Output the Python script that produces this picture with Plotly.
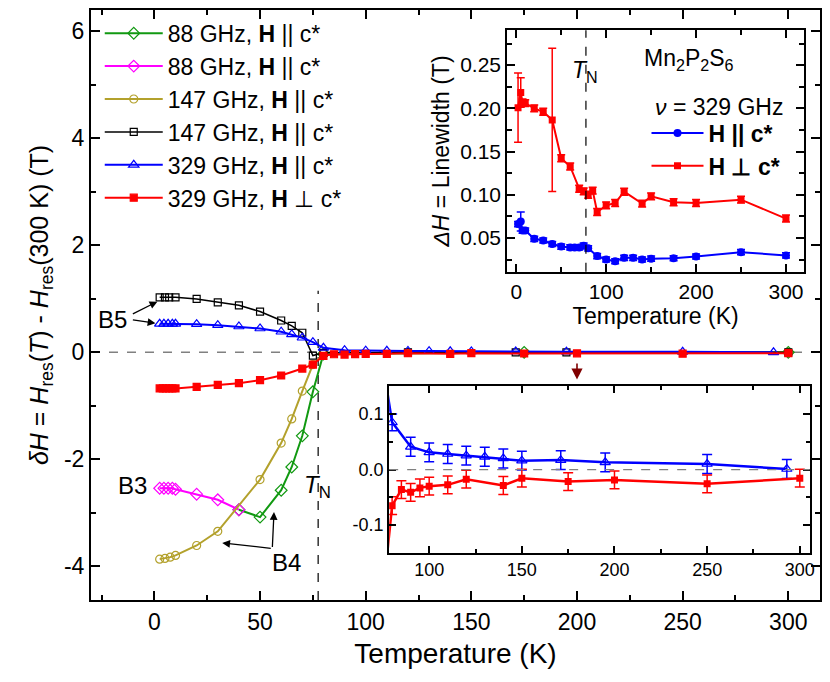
import plotly.graph_objects as go

FONT = "Liberation Sans, Arial, sans-serif"

# ---- main panel: dH = Hres(T) - Hres(300 K) ----
t_88_g = [40, 50, 60, 65, 70, 75, 80, 175, 300]
dh_88_g = [-2.942, -3.08, -2.578, -2.143, -1.561, -0.738, -0.03, 0.0, 0.0]

t_88_m = [2.5, 4.5, 6.5, 8.5, 10, 20, 30, 40]
dh_88_m = [-2.541, -2.541, -2.541, -2.541, -2.56, -2.652, -2.757, -2.942]

t_147_o = [2.5, 5, 7.5, 10, 20, 30, 50, 60, 65, 70, 75, 80, 120, 300]
dh_147_o = [-3.866, -3.853, -3.829, -3.797, -3.611, -3.346, -2.379, -1.697,
            -1.245, -0.725, -0.229, -0.03, 0.0, 0.0]

t_147_k = [2.5, 5, 7, 10, 20, 30, 40, 50, 60, 65, 70, 75, 80, 120, 171, 195, 300]
dh_147_k = [1.028, 1.028, 1.028, 1.028, 0.998, 0.935, 0.879, 0.762, 0.595,
            0.496, 0.366, -0.061, -0.01, 0.0, 0.0, 0.0, 0.0]

t_329_par = [2.5, 4.5, 6.5, 8.5, 10, 20, 30, 40, 50, 60, 65, 70, 75, 80, 90,
             100, 110, 120, 130, 140, 150, 171, 195, 250, 293]
dh_329_par = [0.533, 0.533, 0.533, 0.533, 0.533, 0.526, 0.507, 0.483, 0.446,
              0.385, 0.335, 0.273, 0.191, 0.085, 0.041, 0.031, 0.028, 0.025,
              0.023, 0.020, 0.016, 0.017, 0.013, 0.010, 0.001]
err_329_par = [0.017] * 13 + [0.015] + [0.017] * 11

t_329_perp = [2.5, 4, 5.5, 7, 8.5, 10, 20, 30, 40, 50, 60, 70, 75, 80, 85, 90,
              95, 100, 110, 120, 140, 150, 175, 200, 250, 300]
dh_329_perp = [-0.675, -0.675, -0.675, -0.675, -0.675, -0.675, -0.645, -0.608,
               -0.576, -0.52, -0.433, -0.303, -0.229, -0.065, -0.036, -0.041,
               -0.033, -0.030, -0.0275, -0.0174, -0.0287, -0.0156, -0.0216,
               -0.0186, -0.0257, -0.0156]
err_329_perp = [0.016] * 26

# ---- inset: linewidth at 329 GHz ----
t_lw_par = [2, 5, 7, 10, 20, 30, 40, 50, 60, 65, 70, 75, 80, 90, 100, 110,
            120, 130, 140, 150, 175, 200, 250, 300]
lw_par = [0.066, 0.069, 0.0585, 0.0585, 0.049, 0.047, 0.043, 0.040, 0.039,
          0.039, 0.039, 0.041, 0.038, 0.029, 0.025, 0.023, 0.027, 0.027,
          0.025, 0.026, 0.0265, 0.0285, 0.0335, 0.0297]
err_lw_par = [0.003, 0.011] + [0.003] * 22

t_lw_perp = [2, 5, 7, 10, 20, 30, 40, 50, 60, 70, 75, 80, 85, 90, 100, 110,
             120, 140, 150, 175, 200, 250, 300]
lw_perp = [0.2008, 0.2184, 0.2069, 0.2060, 0.200, 0.196, 0.1866, 0.1423,
           0.1327, 0.107, 0.1039, 0.100, 0.1047, 0.080, 0.0877, 0.0904,
           0.1035, 0.0897, 0.0981, 0.0912, 0.0904, 0.0943, 0.0724]
err_lw_perp = [0.040, 0.017, 0.004, 0.004, 0.004, 0.004, 0.083] + [0.004] * 16

# tick labels (plain hyphen minus as in the original)
main_yticks = [-4, -2, 0, 2, 4, 6]
main_ytext = ["-4", "-2", "0", "2", "4", "6"]
zoom_yticks = [-0.1, 0.0, 0.1]
zoom_ytext = ["-0.1", "0.0", "0.1"]

T_N = 77.5

GREEN, MAGENTA, OLIVE = "#119911", "#FF00FF", "#B3A12C"
BLUE, RED = "#0000FF", "#FF0000"

fig = go.Figure()

main = [
    (t_88_g, dh_88_g, GREEN, "diamond-open", 9, "88 GHz, <b>H</b> || c*"),
    (t_88_m, dh_88_m, MAGENTA, "diamond-open", 9, "88 GHz, <b>H</b> || c*"),
    (t_147_o, dh_147_o, OLIVE, "circle-open", 8, "147 GHz, <b>H</b> || c*"),
    (t_147_k, dh_147_k, "#000000", "square-open", 7, "147 GHz, <b>H</b> || c*"),
    (t_329_par, dh_329_par, BLUE, "triangle-up-open", 9, "329 GHz, <b>H</b> || c*"),
    (t_329_perp, dh_329_perp, RED, "square", 7, "329 GHz, <b>H</b> \u22a5 c*"),
]
for t, v, c, sym, sz, name in main:
    fig.add_trace(go.Scatter(
        x=t, y=v, mode="lines+markers", name=name,
        line=dict(color=c, width=2 if c != "#000000" else 1.5),
        marker=dict(symbol=sym, size=sz, color=c, line=dict(color=c, width=1.2)),
        xaxis="x", yaxis="y", legend="legend",
    ))

# inset: linewidth
fig.add_trace(go.Scatter(
    x=t_lw_par, y=lw_par, mode="lines+markers", name="<b>H || c*</b>",
    line=dict(color=BLUE, width=2), marker=dict(symbol="circle", size=8, color=BLUE),
    error_y=dict(type="data", array=err_lw_par, color=BLUE, thickness=1.5, width=4),
    xaxis="x2", yaxis="y2", legend="legend2",
))
fig.add_trace(go.Scatter(
    x=t_lw_perp, y=lw_perp, mode="lines+markers", name="<b>H \u22a5 c*</b>",
    line=dict(color=RED, width=2), marker=dict(symbol="square", size=7, color=RED),
    error_y=dict(type="data", array=err_lw_perp, color=RED, thickness=1.5, width=4),
    xaxis="x2", yaxis="y2", legend="legend2",
))

# inset: zoom of the 329 GHz shift above T_N
fig.add_trace(go.Scatter(
    x=t_329_par, y=dh_329_par, mode="lines+markers", showlegend=False,
    line=dict(color=BLUE, width=2.5),
    marker=dict(symbol="triangle-up-open", size=9, color=BLUE, line=dict(color=BLUE, width=1.2)),
    error_y=dict(type="data", array=err_329_par, color=BLUE, thickness=1.5, width=5),
    xaxis="x3", yaxis="y3",
))
fig.add_trace(go.Scatter(
    x=t_329_perp, y=dh_329_perp, mode="lines+markers", showlegend=False,
    line=dict(color=RED, width=2.5), marker=dict(symbol="square", size=7, color=RED),
    error_y=dict(type="data", array=err_329_perp, color=RED, thickness=1.5, width=5),
    xaxis="x3", yaxis="y3",
))

ax_common = dict(
    showline=True, linewidth=2, linecolor="black", mirror="ticks",
    ticks="inside", tickwidth=1.5, tickcolor="black",
    showgrid=False, zeroline=False,
)

# the page body adds an 8 px offset, margins are set to compensate
fig.update_layout(
    width=830, height=682,
    margin=dict(l=83, r=18, t=0, b=90),
    paper_bgcolor="white", plot_bgcolor="white",
    font=dict(family=FONT, color="black"),
    xaxis=dict(**ax_common, range=[-30, 315], domain=[0, 1], anchor="y",
               tick0=0, dtick=50, ticklen=9,
               minor=dict(ticks="inside", dtick=25, tick0=0, ticklen=5, tickwidth=1.5),
               tickfont=dict(size=23),
               title=dict(text="Temperature (K)", font=dict(size=28), standoff=10)),
    yaxis=dict(**ax_common, range=[-4.63, 6.40], domain=[0, 1], anchor="x",
               tickvals=main_yticks, ticktext=main_ytext, ticklen=9,
               minor=dict(ticks="inside", dtick=1, tick0=0, ticklen=5, tickwidth=1.5),
               tickfont=dict(size=23),
               title=dict(text="<i>\u03b4H</i> = <i>H</i><sub>res</sub>(<i>T</i>) - "
                               "<i>H</i><sub>res</sub>(300 K) (T)",
                          font=dict(size=25), standoff=8)),
    xaxis2=dict(**ax_common, range=[-10, 320], domain=[0.571, 0.978], anchor="y2",
                tick0=0, dtick=100, ticklen=8,
                minor=dict(ticks="inside", dtick=50, tick0=0, ticklen=5, tickwidth=1.5),
                tickfont=dict(size=21),
                title=dict(text="Temperature (K)", font=dict(size=23), standoff=2)),
    yaxis2=dict(**ax_common, range=[0.0108, 0.2904], domain=[0.5563, 0.9657], anchor="x2",
                tickvals=[0.05, 0.10, 0.15, 0.20, 0.25], tickformat=".2f", ticklen=8,
                minor=dict(ticks="inside", dtick=0.025, tick0=0, ticklen=5, tickwidth=1.5),
                tickfont=dict(size=21),
                title=dict(text="<i>\u0394H</i> = Linewidth (T)", font=dict(size=23), standoff=4)),
    xaxis3=dict(**ax_common, range=[78.4, 305.4], domain=[0.409, 0.986], anchor="y3",
                tick0=0, dtick=50, ticklen=7,
                minor=dict(ticks="inside", dtick=25, tick0=0, ticklen=4, tickwidth=1.5),
                tickfont=dict(size=18)),
    yaxis3=dict(**ax_common, range=[-0.150, 0.151], domain=[0.0799, 0.3632], anchor="x3",
                tickvals=zoom_yticks, ticktext=zoom_ytext, ticklen=7,
                minor=dict(ticks="inside", dtick=0.05, tick0=0, ticklen=4, tickwidth=1.5),
                tickfont=dict(size=18)),
    legend=dict(x=0.012, y=0.997, xanchor="left", yanchor="top",
                bgcolor="rgba(0,0,0,0)", font=dict(size=23), itemwidth=58,
                tracegroupgap=0),
    legend2=dict(x=0.762, y=0.828, xanchor="left", yanchor="top",
                 bgcolor="rgba(0,0,0,0)", font=dict(size=23), itemwidth=52,
                 tracegroupgap=0),
    shapes=[
        dict(type="line", xref="x domain", yref="y", x0=0, x1=1, y0=0, y1=0,
             line=dict(color="#808080", width=1.5, dash="dash"), layer="below"),
        dict(type="line", xref="x", yref="y", x0=T_N, x1=T_N, y0=-4.63, y1=1.15,
             line=dict(color="black", width=1.2, dash="dash"), layer="below"),
        dict(type="line", xref="x2", yref="y2 domain", x0=T_N, x1=T_N, y0=0, y1=1,
             line=dict(color="black", width=1.2, dash="dash"), layer="above"),
        dict(type="line", xref="x3 domain", yref="y3", x0=0, x1=1, y0=0, y1=0,
             line=dict(color="#808080", width=1.2, dash="dash"), layer="above"),
    ],
)

txt = dict(showarrow=False, font=dict(family=FONT, size=24, color="black"))
arr = dict(text="", showarrow=True, arrowhead=2, arrowsize=1.2, arrowwidth=1.3,
           arrowcolor="black", axref="x", ayref="y", xref="x", yref="y", standoff=0)
annotations = [
    dict(x=-19.9, y=0.61, xref="x", yref="y", text="B5", **txt),
    dict(x=-10.4, y=-2.49, xref="x", yref="y", text="B3", **txt),
    dict(x=62.6, y=-3.92, xref="x", yref="y", text="B4", **txt),
    dict(x=77, y=-2.5, xref="x", yref="y", text="<i>T</i><sub>N</sub>", **txt),
    dict(x=1.4, y=0.948, ax=-10.9, ay=0.706, **arr),
    dict(x=0.5, y=0.545, ax=-10.9, ay=0.613, **arr),
    dict(x=32.1, y=-3.563, ax=55.8, ay=-3.667, **arr),
    dict(x=56.6, y=-2.987, ax=55.8, ay=-3.667, **arr),
    dict(x=200, y=-0.51, ax=200, ay=-0.18, xref="x", yref="y", axref="x", ayref="y",
         text="", showarrow=True, arrowhead=2, arrowsize=1.4, arrowwidth=1.6,
         arrowcolor="#800000", standoff=0),
    dict(x=76, y=0.243, xref="x2", yref="y2", text="<i>T</i><sub>N</sub>",
         showarrow=False, font=dict(family=FONT, size=23)),
    dict(x=192, y=0.257, xref="x2", yref="y2",
         text="Mn<sub>2</sub>P<sub>2</sub>S<sub>6</sub>",
         showarrow=False, font=dict(family=FONT, size=23)),
    dict(x=226, y=0.202, xref="x2", yref="y2", text="<i>\u03bd</i> = 329 GHz",
         showarrow=False, font=dict(family=FONT, size=23)),
]
fig.update_layout(annotations=annotations)

fig.write_html("out.html")
